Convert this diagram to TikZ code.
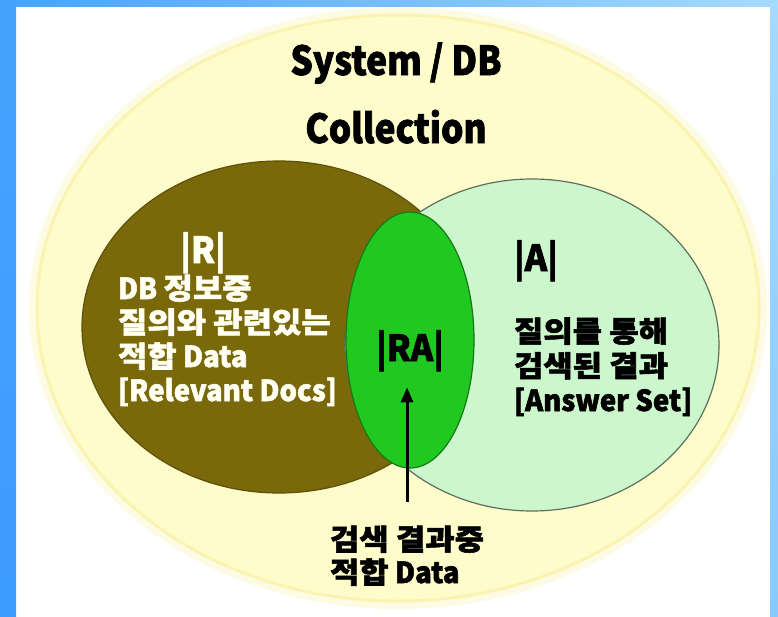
\documentclass[tikz,border=0pt]{standalone}
\usepackage{fontspec}
\setmainfont{Noto Sans CJK KR}[FakeStretch=0.95, BoldFeatures={FakeBold=1.8}]
\newfontfamily\kr{Noto Sans CJK KR}[FakeStretch=1.1, BoldFeatures={FakeBold=1.8}]
\newfontfamily\ttlfont{Noto Sans CJK KR}[FakeStretch=0.88, BoldFeatures={FakeBold=1.8}]
\newcommand{\K}[1]{{\kr\bfseries #1}}
\usetikzlibrary{shapes.geometric,arrows.meta}
\definecolor{frameL}{HTML}{45A3FF}
\definecolor{frameLb}{HTML}{3D9CFF}
\definecolor{frameR}{HTML}{A6DAFF}
\definecolor{frameRb}{HTML}{86CAFF}
\definecolor{yel}{HTML}{FEFCCB}
\definecolor{yeledge}{HTML}{FAF4B0}
\definecolor{yelglow}{HTML}{FDFBE4}
\definecolor{olivefill}{HTML}{7A690A}
\definecolor{olivedk}{HTML}{5E5006}
\definecolor{lgreen}{HTML}{CCF7CC}
\definecolor{lgedge}{HTML}{5F6F5F}
\definecolor{gfill}{HTML}{20C820}
\definecolor{gedge}{HTML}{137A13}
\definecolor{wtext}{HTML}{FFFFF2}
\tikzset{
  ell/.style={ellipse, inner sep=0pt, outer sep=0pt},
  txt/.style={inner sep=0pt, outer sep=0pt, align=left, font=\bfseries\fontsize{29}{34}\selectfont},
  bigtxt/.style={inner sep=0pt, outer sep=0pt, font=\bfseries\fontsize{36}{40}\selectfont},
  ttl/.style={inner sep=0pt, outer sep=0pt, align=center, font=\ttlfont\bfseries\fontsize{40}{68}\selectfont},
  arr/.style={-{Triangle[length=15pt,width=12pt]}, line width=3pt, black}
}
\begin{document}
\begin{tikzpicture}[x=1pt,y=-1pt]
\useasboundingbox (0,0) rectangle (778,616);
\fill[white] (0,0) rectangle (778,616);
\shade[left color=frameL, right color=frameR] (0,0) rectangle (778,6);
\shade[top color=frameL, bottom color=frameLb] (0,0) rectangle (16,616);
\shade[top color=frameR, bottom color=frameRb] (770,0) rectangle (778,616);
% system ellipse with soft edge
\node[ell, draw=yelglow, line width=8pt, minimum width=730, minimum height=594] (sysglow) at (398,308) {};
\node[ell, fill=yel, draw=yeledge, line width=3pt, minimum width=722, minimum height=586] (sys) at (398,308) {};
% sets
\node[ell, fill=olivefill, draw=olivedk, line width=1.2pt, minimum width=394, minimum height=332] (rel) at (279,327) {};
\node[ell, fill=lgreen, draw=lgedge, line width=1.2pt, minimum width=374, minimum height=332] (ans) at (532,345) {};
\node[ell, fill=gfill, draw=gedge, line width=1.2pt, minimum width=128, minimum height=256] (ra) at (410,340) {};
% texts
\node[ttl, anchor=base] (title) at (396,143) {System / DB\\Collection};
\node[bigtxt, text=wtext, anchor=base] (rlbl) at (203,263) {|R|};
\node[txt, text=wtext, anchor=base west] (rtxt) at (118,401) {DB \K{정보중}\\\K{질의와 관련있는}\\\K{적합} Data\\{[}Relevant Docs]};
\node[bigtxt, anchor=base west] (albl) at (514,271) {|A|};
\node[txt, anchor=base west, font=\bfseries\fontsize{29}{34.5}\selectfont] (atxt) at (514,411) {\K{질의를 통해}\\\K{검색된 결과}\\{[}Answer Set]};
\node[bigtxt, anchor=base] (ralbl) at (410,361) {|RA|};
\node[txt, anchor=base west, font=\bfseries\fontsize{29}{33}\selectfont] (bot) at (330,583) {\K{검색 결과중}\\\K{적합} Data};
\draw[arr, shorten <=24pt, shorten >=16pt] (bot.north) -- (bot.north |- ralbl.south);
\end{tikzpicture}
\end{document}
